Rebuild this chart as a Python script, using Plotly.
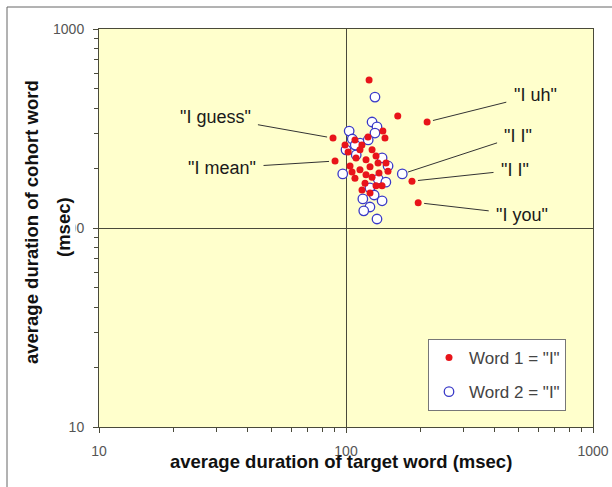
import numpy as np
import plotly.graph_objects as go

# ---- data (msec) ----
word1_x = [124, 162, 213, 88.6, 90.3, 185, 196, 141, 108.7, 116, 122.8, 127.5, 102, 109.8,
           120.5, 132.3, 145.2, 103.8, 113.9, 125.1, 136, 147.9, 108.7, 119.4, 127.5, 139.9,
           116.1, 125.1, 132.3, 113.9, 99.1, 143.8, 105.8, 134.8, 120.5]
word1_y = [555, 365, 341, 283, 217, 172, 134, 307, 277, 261, 287, 247, 241, 225,
           220, 230, 212, 205, 196, 203, 189, 193, 178, 168, 180, 163,
           155, 150, 163, 247, 261, 283, 191, 212, 185]

word2_x = [131, 169, 103, 106, 114, 123, 127.5, 133.5, 131, 100, 110, 140, 148, 97,
           135, 145, 125, 130, 117, 125, 140, 118, 133.5, 109]
word2_y = [455, 187, 307, 280, 267, 277, 341, 322, 300, 247, 233, 225, 205, 187,
           176, 170, 159, 146.5, 140, 127.5, 137, 122, 111, 261]

series_names = ['Word 1 = "I"', 'Word 2 = "I"']

# callout labels: text and the point they refer to
label_text = ['"I guess"', '"I mean"', '"I uh"', '"I I"', '"I I"', '"I you"']
label_x = [88.6, 90.3, 213, 169, 185, 196]
label_y = [283, 217, 341, 187, 172, 134]
label_dx = [-118, -113, 108, 116, 103, 104]
label_dy = [-21, 7, -27, -38, -11, 12]

axis_ticks = [10, 100, 1000]
axis_ticktext = ['10', '100', '1000']
minor_ticks = [m * d for d in (10, 100) for m in range(2, 10)]

FONT = "Arial, Liberation Sans, sans-serif"
L, R, T, B = 99, 19, 29, 60
W, H = 612, 487
pw, ph = W - L - R, H - T - B

fig = go.Figure()
fig.add_trace(go.Scatter(
    x=word2_x, y=word2_y, mode='markers', name=series_names[1],
    legendgroup='b', legendrank=2,
    marker=dict(symbol='circle', size=9.5, color='white',
                line=dict(color='#3a3ac8', width=1.3))))
fig.add_trace(go.Scatter(
    x=word1_x, y=word1_y, mode='markers', name=series_names[0],
    legendgroup='a', legendrank=1,
    marker=dict(symbol='circle', size=7, color='#e8141a',
                line=dict(color='#e8141a', width=0))))

annos = []
for t, x, y, dx, dy in zip(label_text, label_x, label_y, label_dx, label_dy):
    annos.append(dict(x=np.log10(x), y=np.log10(y), xref='x', yref='y', text=t,
                      showarrow=True, arrowhead=0, arrowwidth=1, arrowcolor='#333333',
                      ax=dx, ay=dy, standoff=6, startstandoff=6,
                      font=dict(family=FONT, size=18, color='#1a1a1a')))

# axis titles
annos.append(dict(text='<b>average duration of target word (msec)</b>', xref='paper', yref='paper',
                  x=(341 - L) / pw, y=(427 - 461) / ph, showarrow=False,
                  xanchor='center', yanchor='middle',
                  font=dict(family=FONT, size=18.5, color='#111111')))
annos.append(dict(text='<b>average duration of cohort word</b>', xref='paper', yref='paper',
                  x=(31 - L) / pw, y=(427 - 222) / ph, showarrow=False, textangle=-90,
                  xanchor='center', yanchor='middle',
                  font=dict(family=FONT, size=18.5, color='#111111')))
annos.append(dict(text='<b>(msec)</b>', xref='paper', yref='paper',
                  x=(63 - L) / pw, y=(427 - 227) / ph, showarrow=False, textangle=-90,
                  xanchor='center', yanchor='middle', bgcolor='white',
                  font=dict(family=FONT, size=18.5, color='#111111')))

axis_common = dict(type='log', tickvals=axis_ticks, ticktext=axis_ticktext,
                   showgrid=True, gridcolor='#4a4a3a', gridwidth=1,
                   showline=True, linecolor='#4a4a3a', linewidth=1, mirror=True,
                   ticks='outside', ticklen=5, tickcolor='#4a4a3a',
                   minor=dict(tickvals=minor_ticks, ticks='outside', ticklen=4,
                              tickcolor='#4a4a3a', showgrid=False),
                   tickfont=dict(family=FONT, size=14, color='#555555'),
                   zeroline=False, range=[1, 3], automargin=False)

frame_left = (7 - L) / pw
frame_top = (427 - 7) / ph

fig.update_layout(
    width=W, height=H, autosize=False,
    margin=dict(l=L, r=R, t=T, b=B, autoexpand=False),
    paper_bgcolor='white', plot_bgcolor='#ffffcc',
    xaxis=dict(axis_common, ticklabelstandoff=6),
    yaxis=dict(axis_common, ticklabelstandoff=6),
    showlegend=True,
    legend=dict(x=(428 - L) / pw, y=(427 - 339) / ph, xanchor='left', yanchor='top',
                bgcolor='white', bordercolor='#777777', borderwidth=1,
                font=dict(family=FONT, size=17, color='#444444'),
                tracegroupgap=9, traceorder='grouped', itemsizing='trace',
                itemwidth=30),
    annotations=annos,
    shapes=[
        dict(type='line', xref='paper', yref='paper',
             x0=frame_left, x1=1.5, y0=frame_top, y1=frame_top,
             line=dict(color='#666666', width=1), layer='below'),
        dict(type='line', xref='paper', yref='paper',
             x0=frame_left, x1=frame_left, y0=-1.0, y1=frame_top,
             line=dict(color='#666666', width=1), layer='below'),
    ],
)

fig.write_html("out.html")
